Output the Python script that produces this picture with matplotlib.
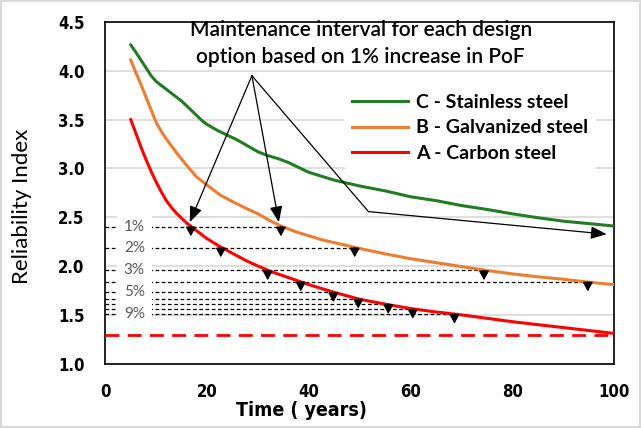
import matplotlib
matplotlib.use("Agg")
import matplotlib.pyplot as plt
import matplotlib.patches as mpatches

# curve values (time in years, reliability index)
years_c = [5, 6, 7, 8, 9, 10, 11, 12, 13, 14, 15, 16, 17, 18, 19, 20, 22, 24, 26, 28, 30,
           32, 34, 36, 38, 40, 42.5, 45, 47.5, 50, 55, 60, 65, 70, 75, 80, 85, 90, 95, 100]
beta_c = [4.265, 4.19, 4.11, 4.03, 3.95, 3.89, 3.85, 3.81, 3.77, 3.73, 3.69, 3.64, 3.59, 3.54,
          3.49, 3.45, 3.39, 3.34, 3.29, 3.23, 3.17, 3.13, 3.10, 3.06, 3.01, 2.96, 2.92, 2.88,
          2.85, 2.82, 2.77, 2.71, 2.67, 2.62, 2.58, 2.535, 2.495, 2.46, 2.435, 2.41]

years_ab = [5, 6, 7, 8, 9, 10, 11, 12, 13, 14, 15, 16, 18, 20, 22.5, 25, 27.5, 30, 32.5, 35,
            37.5, 40, 42.5, 45, 47.5, 50, 55, 60, 65, 70, 75, 80, 85, 90, 95, 100]
beta_b = [4.11, 3.98, 3.86, 3.73, 3.60, 3.47, 3.38, 3.30, 3.23, 3.16, 3.095, 3.03, 2.91, 2.83,
          2.73, 2.66, 2.595, 2.535, 2.46, 2.40, 2.35, 2.31, 2.27, 2.24, 2.21, 2.18, 2.125,
          2.075, 2.035, 1.995, 1.955, 1.92, 1.89, 1.865, 1.835, 1.81]
beta_a = [3.50, 3.36, 3.22, 3.09, 2.97, 2.86, 2.76, 2.67, 2.60, 2.54, 2.49, 2.44, 2.36, 2.28,
          2.20, 2.13, 2.06, 2.00, 1.945, 1.90, 1.855, 1.81, 1.77, 1.73, 1.695, 1.66, 1.61,
          1.565, 1.53, 1.50, 1.465, 1.43, 1.40, 1.37, 1.34, 1.31]

target_beta = 1.29

# PoF increase levels (1% .. 9%) and where each curve reaches them
levels = [2.405, 2.19, 1.955, 1.84, 1.73, 1.665, 1.61, 1.56, 1.51]
level_labels = ["1%", "2%", "3%", "", "5%", "", "", "", "9%"]
hit_a = [16.8, 22.7, 31.9, 38.4, 44.8, 49.7, 55.6, 60.4, 68.6]
hit_b = [34.5, 49.0, 74.4, 94.8]

labels = ["C - Stainless steel", "B - Galvanized steel", "A - Carbon steel"]
colors = ["#237C23", "#ED7D31", "#FF0000"]

fig = plt.figure(figsize=(6.41, 4.28), dpi=100)
fig.patch.set_edgecolor("#d9d9d9")
fig.patch.set_linewidth(1.5)
ax = fig.add_axes([0.1643, 0.1502, 0.794, 0.7984])

ax.set_xlim(0, 100)
ax.set_ylim(1.0, 4.5)
ax.set_xticks(range(0, 101, 20))
ax.set_yticks([1.0, 1.5, 2.0, 2.5, 3.0, 3.5, 4.0, 4.5])
ax.set_yticklabels(["%.1f" % v for v in ax.get_yticks()])
ax.yaxis.grid(True, color="#d9d9d9", lw=1.2, zorder=0)
ax.set_axisbelow(True)
ax.tick_params(length=0, labelsize=12)
ax.tick_params(axis="y", pad=15)
ax.tick_params(axis="x", pad=14)
for t in ax.get_xticklabels() + ax.get_yticklabels():
    t.set_fontweight("bold")
    t.set_fontstretch("condensed")
for s in ax.spines.values():
    s.set_linewidth(1.2)

# dashed level lines
for i, lv in enumerate(levels):
    xs = [hit_a[i]]
    if i < len(hit_b):
        xs.append(hit_b[i])
    ax.plot([0, max(xs) + 1], [lv, lv], color="black", lw=0.9, ls=(0, (3, 2)), zorder=2)

# white box with the % labels
ax.add_patch(mpatches.Rectangle((2.3, 1.46), 6.8, 1.065, facecolor="white",
                                edgecolor="none", zorder=3))
for lv, lb in zip(levels, level_labels):
    if lb:
        ax.text(5.7, lv, lb, ha="center", va="center", fontsize=11, color="#595959",
                family="Lato", zorder=4)

ax.plot([0, 100], [target_beta, target_beta], color="#FF0000", lw=2, ls=(0, (5, 3)),
        zorder=4, clip_on=False)

ax.plot(years_c, beta_c, color=colors[0], lw=2.2, label=labels[0], zorder=5)
ax.plot(years_ab, beta_b, color=colors[1], lw=2.2, label=labels[1], zorder=5)
ax.plot(years_ab, beta_a, color=colors[2], lw=2.2, label=labels[2], zorder=5)

# small arrows at each hit point
ap_small = dict(arrowstyle="-|>,head_length=0.55,head_width=0.3", color="black", lw=1,
                shrinkA=0, shrinkB=0, mutation_scale=10)
for i, lv in enumerate(levels):
    pts = [hit_a[i]]
    if i < len(hit_b):
        pts.append(hit_b[i])
    for x in pts:
        ax.annotate("", xy=(x, lv - 0.1), xytext=(x, lv), arrowprops=ap_small, zorder=6)

# big callout arrows
apex = (28.8, 3.95)
elbow = (51.7, 2.558)
ap_big = dict(arrowstyle="-|>,head_length=0.8,head_width=0.32", color="black", lw=0.9,
              shrinkA=0, shrinkB=0, mutation_scale=12)
ax.annotate("", xy=(16.6, 2.45), xytext=apex, arrowprops=ap_big, zorder=7)
ax.annotate("", xy=(34.1, 2.45), xytext=apex, arrowprops=ap_big, zorder=7)
ax.plot([apex[0], elbow[0]], [apex[1], elbow[1]], color="black", lw=0.9, zorder=7)
ax.annotate("", xy=(98.5, 2.327), xytext=elbow, arrowprops=ap_big, zorder=7)

ax.text(50.2, 4.28, "Maintenance interval for each design\noption based on 1% increase in PoF",
        ha="center", va="center", fontsize=15, family="Lato", fontweight="semibold",
        linespacing=1.45, zorder=8)

leg = ax.legend(loc="upper left", bbox_to_anchor=(0.45, 0.84), frameon=True,
                handlelength=2.9, handletextpad=0.4, labelspacing=0.42,
                prop=dict(family="Lato", weight="bold", size=14))
leg.get_frame().set_edgecolor("none")
leg.get_frame().set_facecolor("white")
leg.get_frame().set_alpha(1)
leg.set_zorder(6)

ax.set_ylabel("Reliability Index", fontsize=16, family="Lato")
ax.yaxis.set_label_coords(-0.145, 0.46)
ax.set_xlabel("Time ( years)", fontsize=14, fontweight="bold", fontstretch="condensed")
ax.xaxis.set_label_coords(0.385, -0.11)

fig.savefig("out.png", dpi=100)
